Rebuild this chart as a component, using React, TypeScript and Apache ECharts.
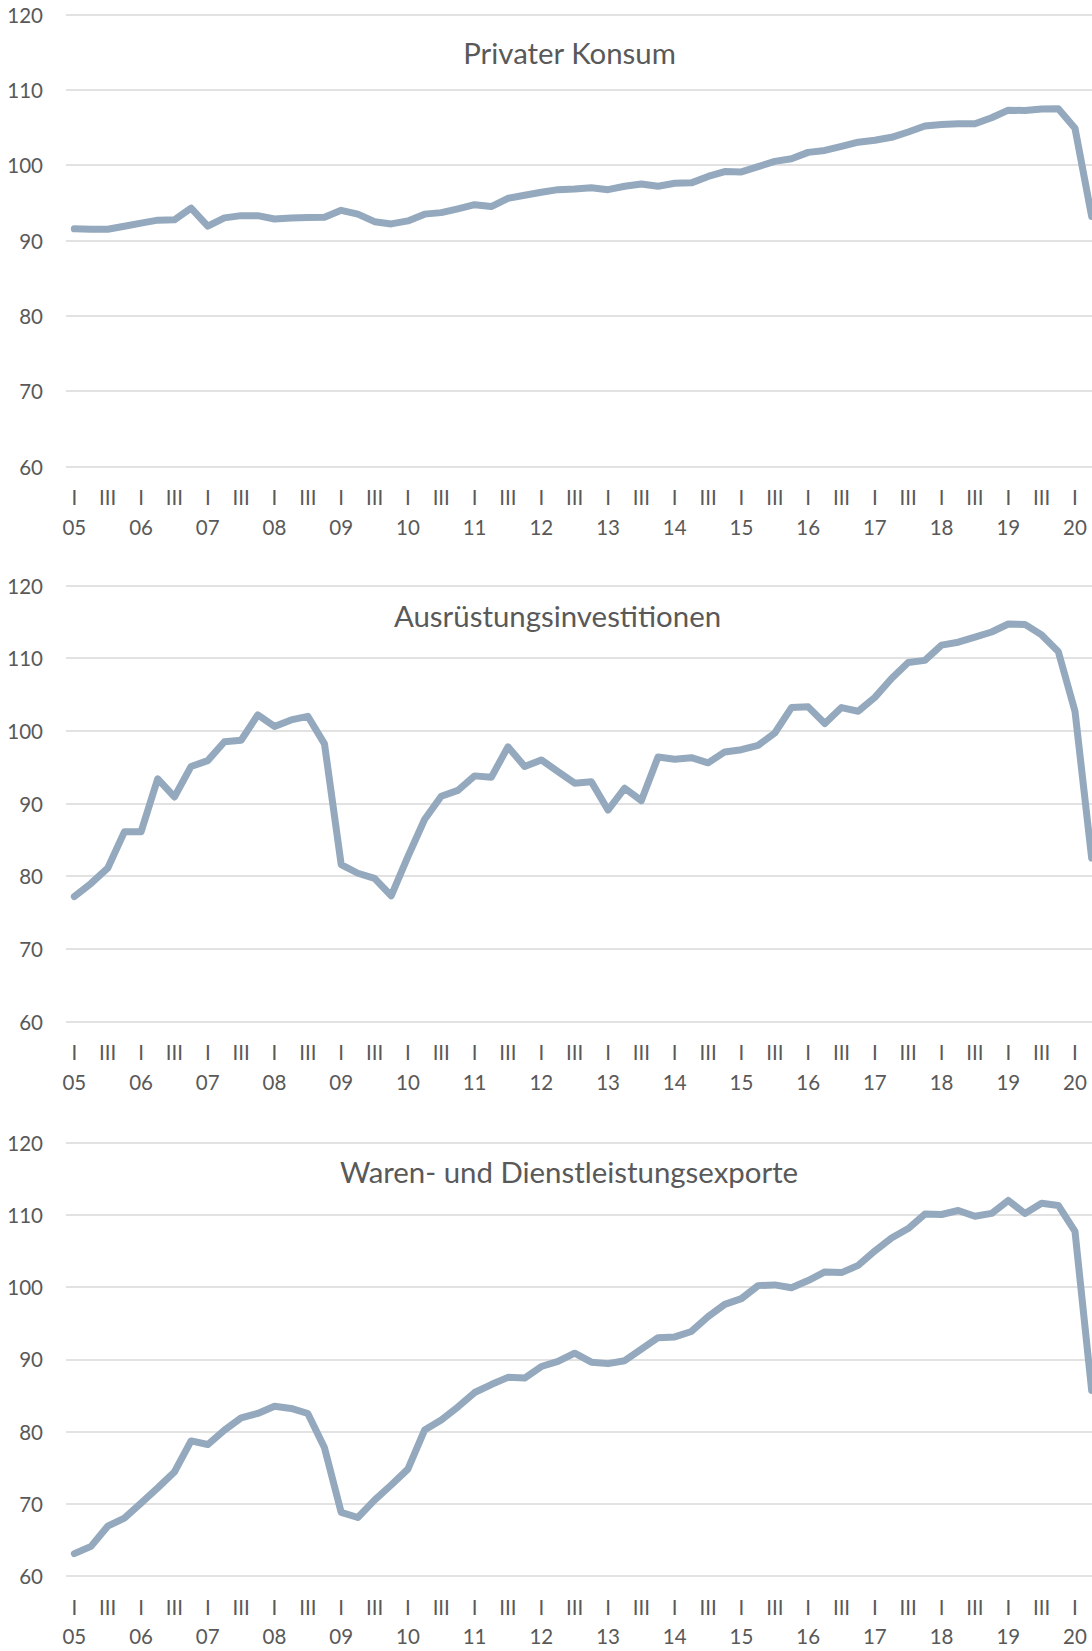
import React, { useEffect, useRef } from "react";
import * as echarts from "echarts";

// Quarterly categories 2005 Q1 .. 2020 Q2
const years = ["05", "06", "07", "08", "09", "10", "11", "12", "13", "14", "15", "16", "17", "18", "19", "20"];
const quarters = ["I", "II", "III", "IV"];
const categories: string[] = [];
years.forEach((y) => quarters.forEach((q) => categories.push(q + " " + y)));
categories.length = 62;

const yMin = 60;
const yMax = 120;
const yStep = 10;

const titles = ["Privater Konsum", "Ausrüstungsinvestitionen", "Waren- und Dienstleistungsexporte"];

const privaterKonsum = [
  91.55, 91.5, 91.5, 91.9, 92.3, 92.7, 92.75, 94.3, 91.9, 93.0, 93.3, 93.3, 92.85, 93.0, 93.05, 93.1,
  94.0, 93.5, 92.5, 92.2, 92.6, 93.5, 93.7, 94.2, 94.75, 94.5, 95.6, 96.0, 96.4, 96.75, 96.85, 97.0,
  96.75, 97.2, 97.5, 97.2, 97.6, 97.65, 98.5, 99.15, 99.1, 99.8, 100.5, 100.85, 101.7, 101.95, 102.5, 103.05,
  103.3, 103.7, 104.4, 105.2, 105.4, 105.5, 105.5, 106.3, 107.3, 107.25, 107.45, 107.5, 104.9, 93.2,
];

const ausruestung = [
  77.2, 79.0, 81.1, 86.1, 86.1, 93.4, 90.9, 95.1, 95.9, 98.5, 98.7, 102.2, 100.6, 101.5, 102.0, 98.2,
  81.6, 80.4, 79.7, 77.3, 82.7, 87.8, 91.0, 91.8, 93.8, 93.6, 97.8, 95.1, 96.0, 94.4, 92.8, 93.0,
  89.1, 92.1, 90.4, 96.4, 96.1, 96.3, 95.6, 97.1, 97.4, 98.0, 99.7, 103.2, 103.3, 101.0, 103.2, 102.7,
  104.6, 107.2, 109.4, 109.7, 111.8, 112.2, 112.9, 113.6, 114.7, 114.65, 113.2, 110.9, 102.7, 82.5,
];

const exporte = [
  63.1, 64.1, 66.9, 68.0, 70.1, 72.2, 74.4, 78.7, 78.2, 80.2, 81.9, 82.5, 83.5, 83.2, 82.5, 77.75,
  68.8, 68.1, 70.5, 72.6, 74.8, 80.2, 81.6, 83.4, 85.4, 86.5, 87.5, 87.4, 89.0, 89.7, 90.85, 89.6,
  89.4, 89.8, 91.4, 93.0, 93.1, 93.85, 95.9, 97.6, 98.4, 100.2, 100.3, 99.9, 100.9, 102.1, 102.0, 103.0,
  105.0, 106.8, 108.1, 110.1, 110.05, 110.6, 109.8, 110.2, 112.0, 110.2, 111.6, 111.3, 107.7, 85.7,
];

const seriesData = [privaterKonsum, ausruestung, exporte];

export default function App() {
  const ref = useRef<HTMLDivElement>(null);

  useEffect(() => {
    if (!ref.current) return;
    const chart = echarts.init(ref.current, undefined, { renderer: "svg" });

    const panels = [
      { top: 14.5, height: 452, titleX: 569.5, titleY: 52.5 },
      { top: 585.5, height: 436, titleX: 557.5, titleY: 615 },
      { top: 1142.6, height: 436, titleX: 569, titleY: 1171 },
    ];
    const textColor = "#595959";
    const font = "Lato, 'Open Sans', sans-serif";

    const option: any = {
      animation: false,
      backgroundColor: "#ffffff",
      grid: panels.map((p) => ({ left: 66, top: p.top, width: 1034, height: p.height, containLabel: false })),
      xAxis: panels.map((_, k) => ({
        gridIndex: k,
        type: "category",
        data: categories,
        boundaryGap: true,
        axisLine: { show: false },
        axisTick: { show: false },
        splitLine: { show: false },
        axisLabel: {
          interval: 0,
          margin: 16,
          color: textColor,
          fontFamily: font,
          fontSize: 20.5,
          lineHeight: 29.5,
          formatter: (_v: string, idx: number) => {
            const q = idx % 4;
            if (q === 0) return "I\n" + years[Math.floor(idx / 4)];
            if (q === 2) return "III\n ";
            return "";
          },
        },
      })),
      yAxis: panels.map((_, k) => ({
        gridIndex: k,
        type: "value",
        min: yMin,
        max: yMax,
        interval: yStep,
        axisLine: { show: false },
        axisTick: { show: false },
        splitLine: { lineStyle: { color: "#d9d9d9", width: 1.5 } },
        axisLabel: { margin: 23, color: textColor, fontFamily: font, fontSize: 20.5 },
      })),
      series: panels.map((_, k) => ({
        type: "line",
        xAxisIndex: k,
        yAxisIndex: k,
        data: seriesData[k],
        symbol: "none",
        showSymbol: false,
        silent: true,
        lineStyle: { color: "#94a9bd", width: 7, cap: "round", join: "round" },
      })),
      graphic: panels.map((p, k) => ({
        type: "text",
        x: p.titleX,
        y: p.titleY,
        style: {
          text: titles[k],
          align: "center",
          verticalAlign: "middle",
          fontFamily: font,
          fontSize: 29.4,
          fill: textColor,
        },
      })),
    };

    chart.setOption(option);
    return () => chart.dispose();
  }, []);

  return (
    <div
      style={{ position: "absolute", left: 0, top: 0, width: 1092, height: 1651, overflow: "hidden", background: "#fff" }}
    >
      <div ref={ref} style={{ width: 1110, height: 1651 }} />
    </div>
  );
}
